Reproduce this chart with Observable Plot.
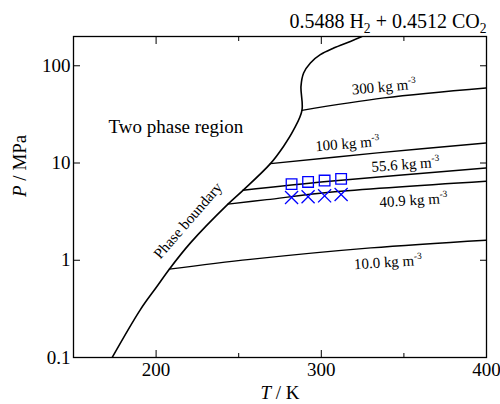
<!DOCTYPE html>
<html><head><meta charset="utf-8">
<script src="https://cdn.jsdelivr.net/npm/d3@7"></script>
<script src="https://cdn.jsdelivr.net/npm/@observablehq/plot@0.6"></script>
<style>
body{margin:0;background:#fff}
#chart{width:500px;height:404px}
#chart svg, #chart svg text, #chart svg tspan { font-family: "Liberation Serif", "Times New Roman", serif !important; }
</style>
</head><body><div id="chart"></div>
<script>
// ---- data ----
const boundaryT = [173.4, 190.5, 200.6, 208, 220.8, 243.5, 252.6, 269.2, 277.2, 283.3, 288.3, 287.7, 289.3, 293.4, 299.4, 307.5, 317.6, 324.6];
const boundaryP = [0.1, 0.311, 0.54, 0.81, 1.51, 3.78, 5.24, 9.86, 14.9, 22, 34.8, 61.4, 84.3, 107, 130, 152, 178, 200];

const rho10T = [208, 257, 330, 400];     const rho10P = [0.81, 1.02, 1.34, 1.61];
const rho409T = [243.5, 267, 305, 400];  const rho409P = [3.78, 4.2, 5.0, 6.5];
const rho556T = [252.6, 305, 400];       const rho556P = [5.24, 6.49, 8.9];
const rho100T = [269.2, 334, 400];       const rho100P = [9.86, 12.7, 16.1];
const rho300T = [288.3, 338, 400];       const rho300P = [34.8, 46.7, 59.2];

const expT = [282, 292, 302, 312];
const squareP = [6.07, 6.39, 6.6, 6.87];
const crossP = [4.42, 4.5, 4.6, 4.75];

const labelText = ["300 kg m^{-3}", "100 kg m^{-3}", "55.6 kg m^{-3}", "40.9 kg m^{-3}", "10.0 kg m^{-3}"];
const labelT = [338.1, 316.0, 351.1, 356.0, 340.5];
const labelP = [54.2, 14.06, 8.61, 3.69, 0.851];
const labelAngle = [-5, -4.5, -4, -3.5, -3.5];

const xTicks = [200, 300, 400];
const xMinorTicks = [250, 350];
const yTicks = [0.1, 1, 10, 100];

const titleText = "0.5488 H_{2} + 0.4512 CO_{2}";

// ---- build tables ----
const boundary = boundaryT.map((T, i) => ({T, P: boundaryP[i]}));
const iso = [];
[[rho10T, rho10P, "10.0"], [rho409T, rho409P, "40.9"], [rho556T, rho556P, "55.6"], [rho100T, rho100P, "100"], [rho300T, rho300P, "300"]]
  .forEach(([Ts, Ps, name]) => Ts.forEach((T, i) => iso.push({T, P: Ps[i], name})));
const exp = expT.map((T, i) => ({T, sq: squareP[i], x: crossP[i]}));
const labels = labelText.map((text, i) => ({text, T: labelT[i], P: labelP[i], r: labelAngle[i]}));

const font = "Liberation Serif, Times New Roman, serif";
const blank = () => "";

const chart = Plot.plot({
  width: 500, height: 404,
  marginLeft: 73, marginRight: 14, marginTop: 36, marginBottom: 47,
  style: {fontFamily: font, background: "#fff", color: "#000"},
  x: {domain: [150, 400]},
  y: {type: "log", domain: [0.1, 200]},
  marks: [
    Plot.axisX(xTicks, {anchor: "bottom", tickSize: 0, tickPadding: 5, fontSize: 19, label: null}),
    Plot.axisX(xTicks, {anchor: "bottom", tickSize: -7, tickFormat: blank, label: null}),
    Plot.axisX(xMinorTicks, {anchor: "bottom", tickSize: -4, tickFormat: blank, label: null}),
    Plot.axisX(xTicks, {anchor: "top", tickSize: -7, tickFormat: blank, label: null}),
    Plot.axisX(xMinorTicks, {anchor: "top", tickSize: -4, tickFormat: blank, label: null}),
    Plot.axisY(yTicks, {anchor: "left", tickSize: 0, tickPadding: 3, fontSize: 19, label: null, tickFormat: d => String(d)}),
    Plot.axisY(yTicks, {anchor: "left", tickSize: -7, tickFormat: blank, label: null}),
    Plot.axisY(yTicks, {anchor: "right", tickSize: -7, tickFormat: blank, label: null}),
    Plot.frame({stroke: "#000", strokeWidth: 1.3}),
    Plot.line(boundary, {x: "T", y: "P", stroke: "#000", strokeWidth: 1.6, curve: "catmull-rom", clip: true}),
    Plot.line(iso, {x: "T", y: "P", z: "name", stroke: "#000", strokeWidth: 1.4, curve: "catmull-rom", clip: true}),
    Plot.dot(exp, {x: "T", y: "sq", symbol: "square", r: 6, stroke: "#0000ff", fill: "none", strokeWidth: 1.3}),
    Plot.dot(exp, {x: "T", y: "x", symbol: "times", r: 6, stroke: "#0000ff", strokeWidth: 1.3}),
    Plot.text(labels, {x: "T", y: "P", text: "text", rotate: "r", fontSize: 15, textAnchor: "middle", lineAnchor: "bottom"}),
    Plot.text(["Phase boundary"], {x: () => 219.3, y: () => 2.56, rotate: -49, fontSize: 15, textAnchor: "middle"}),
    Plot.text(["Two phase region"], {x: () => 171.2, y: () => 20.5, fontSize: 19, textAnchor: "start", lineAnchor: "bottom"}),
    Plot.text([titleText], {frameAnchor: "top-right", dy: -9, fontSize: 20, textAnchor: "end", lineAnchor: "bottom"}),
    Plot.text(["*T* / K"], {frameAnchor: "bottom", dy: 41, fontSize: 19, lineAnchor: "bottom"}),
    Plot.text(["*P* / MPa"], {frameAnchor: "left", dx: -48, rotate: -90, fontSize: 19, lineAnchor: "bottom"})
  ]
});
chart.setAttribute("font-family", font);
document.getElementById("chart").appendChild(chart);

// rich text: *italic*, _{sub}, ^{sup}
const NS = "http://www.w3.org/2000/svg";
chart.querySelectorAll("text").forEach(t => {
  if (t.children.length) return;
  const s = t.textContent;
  if (!/(\*[^*]+\*|_\{|\^\{)/.test(s)) return;
  const fs = parseFloat(getComputedStyle(t).fontSize) || 16;
  const parts = s.split(/(\*[^*]+\*|_\{[^}]+\}|\^\{[^}]+\})/).filter(p => p);
  t.textContent = "";
  let shift = 0;
  parts.forEach(p => {
    const ts = document.createElementNS(NS, "tspan");
    let target = 0;
    if (p.startsWith("*")) { ts.textContent = p.slice(1, -1); ts.setAttribute("font-style", "italic"); }
    else if (p.startsWith("_{")) { ts.textContent = p.slice(2, -1); ts.setAttribute("font-size", (fs * 0.68).toFixed(1)); target = fs * 0.28; }
    else if (p.startsWith("^{")) { ts.textContent = p.slice(2, -1); ts.setAttribute("font-size", (fs * 0.62).toFixed(1)); target = -fs * 0.42; }
    else { ts.textContent = p; }
    const d = target - shift;
    if (d) ts.setAttribute("dy", d.toFixed(1));
    shift = target;
    t.appendChild(ts);
  });
});
</script>
</body></html>
